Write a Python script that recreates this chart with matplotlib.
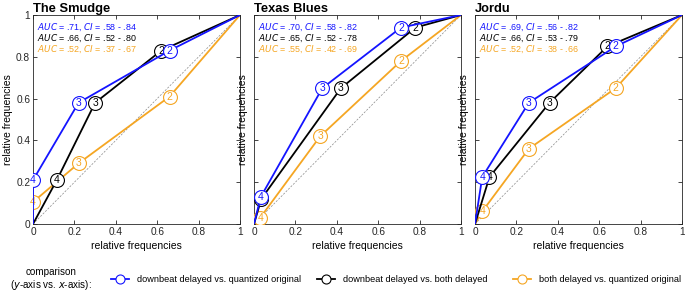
import matplotlib
matplotlib.use("Agg")
import matplotlib.pyplot as plt
from matplotlib.lines import Line2D

plt.rcParams['font.family'] = ['Liberation Sans', 'DejaVu Sans']

titles = ["The Smudge", "Texas Blues", "Jordu"]
labels = ["4", "3", "2"]

# points labeled 4,3,2 (x = relative frequencies, y = relative frequencies)
blue_x = [[0.00, 0.22, 0.66], [0.033, 0.33, 0.71], [0.035, 0.26, 0.68]]
blue_y = [[0.21, 0.58, 0.83], [0.13, 0.65, 0.94], [0.225, 0.58, 0.85]]
black_x = [[0.115, 0.30, 0.62], [0.035, 0.42, 0.78], [0.07, 0.36, 0.64]]
black_y = [[0.21, 0.58, 0.83], [0.12, 0.65, 0.94], [0.225, 0.58, 0.85]]
orange_x = [[0.00, 0.22, 0.66], [0.03, 0.32, 0.71], [0.035, 0.26, 0.68]]
orange_y = [[0.105, 0.29, 0.61], [0.03, 0.42, 0.78], [0.06, 0.36, 0.65]]
# which point labels are visible (black "4" of Texas Blues is hidden under blue)
blue_show = [[1, 1, 1], [1, 1, 1], [1, 1, 1]]
black_show = [[1, 1, 1], [0, 1, 1], [1, 1, 1]]
orange_show = [[1, 1, 1], [1, 1, 1], [1, 1, 1]]

auc_blue = [(".71", ".58 - .84"), (".70", ".58 - .82"), (".69", ".56 - .82")]
auc_black = [(".66", ".52 - .80"), (".65", ".52 - .78"), (".66", ".53 - .79")]
auc_orange = [(".52", ".37 - .67"), (".55", ".42 - .69"), (".52", ".38 - .66")]

legend_labels = ["downbeat delayed vs. quantized original",
                 "downbeat delayed vs. both delayed",
                 "both delayed vs. quantized original"]

BLUE = "#1414FF"
BLACK = "#000000"
ORANGE = "#F5A623"
AXC = "#262626"

W, H = 685, 292
fig = plt.figure(figsize=(W / 100, H / 100), dpi=100)

lefts = [33, 254, 475]
aw, ah = 207, 209
bottom = 224

series = [
    (orange_x, orange_y, ORANGE, auc_orange, orange_show),
    (black_x, black_y, BLACK, auc_black, black_show),
    (blue_x, blue_y, BLUE, auc_blue, blue_show),
]

for i in range(3):
    ax = fig.add_axes([lefts[i] / W, 1 - bottom / H, aw / W, ah / H])
    ax.plot([0, 1], [0, 1], ls=(0, (3, 2)), color="#8a8a8a", lw=0.5, zorder=1)
    for k, (xs, ys, c, auc, show) in enumerate(series):
        x = [0] + xs[i] + [1]
        y = [0] + ys[i] + [1]
        ax.plot(x, y, color=c, lw=1.3, zorder=2 + k * 2, solid_joinstyle='miter')
        ax.plot(xs[i], ys[i], ls='none', marker='o', ms=10, mfc='white',
                mec=c, mew=0.8, zorder=3 + k * 2)
        for xx, yy, lab, sh in zip(xs[i], ys[i], labels, show[i]):
            if sh:
                ax.text(xx, yy, lab, color=c, fontsize=7.5, ha='center', va='center',
                        zorder=3 + k * 2)
    # AUC annotations
    for j, (xs, ys, c, auc, show) in enumerate(reversed(series)):
        a, ci = auc[i]
        ax.text(0.02, 0.97 - j * 0.053,
                r"$\it{AUC}$" + f" = {a}, " + r"$\it{CI}$" + f" = {ci}",
                color=c, fontsize=6.4, ha='left', va='top', transform=ax.transAxes)
    ax.set_xlim(0, 1)
    ax.set_ylim(0, 1)
    ax.set_xticks([0, 0.2, 0.4, 0.6, 0.8, 1])
    ax.set_yticks([0, 0.2, 0.4, 0.6, 0.8, 1])
    ax.set_xticklabels(["0", "0.2", "0.4", "0.6", "0.8", "1"])
    if i == 0:
        ax.set_yticklabels(["0", "0.2", "0.4", "0.6", "0.8", "1"])
    else:
        ax.set_yticklabels([])
    ax.tick_params(direction='in', top=True, right=True, length=3, width=0.6,
                   labelsize=7.3, colors=AXC, pad=2)
    for s in ax.spines.values():
        s.set_color(AXC)
        s.set_linewidth(0.6)
    ax.set_xlabel("relative frequencies", fontsize=7.5, labelpad=3)
    ax.set_ylabel("relative frequencies", fontsize=7.5, labelpad=2)
    ax.set_title(titles[i], fontsize=9.3, fontweight='bold', loc='left', pad=2)

legend_x = [111, 317, 513]
for c, lab, lx in zip((BLUE, BLACK, ORANGE), legend_labels, legend_x):
    h = Line2D([], [], color=c, lw=1.3, marker='o', ms=6.5, mfc='white', mec=c, mew=0.8)
    fig.legend([h], [lab], frameon=False, fontsize=6.6,
               loc='center left', bbox_to_anchor=(lx / W, 1 - 280 / H),
               handlelength=2.0, handletextpad=0.8, borderaxespad=0, borderpad=0)
fig.text(51 / W, 1 - 279.5 / H, "comparison\n(" + r"$\it{y}$" + "-axis vs. " + r"$\it{x}$" + "-axis):",
         fontsize=7.1, ha='center', va='center', linespacing=1.1)

fig.savefig("out.png", dpi=100)
